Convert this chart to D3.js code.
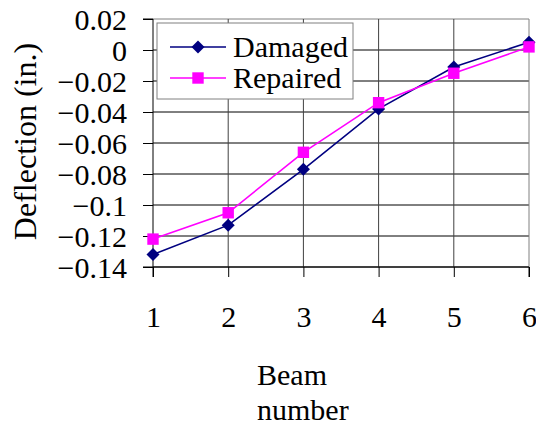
<!DOCTYPE html>
<html><head><meta charset="utf-8">
<script src="https://cdn.jsdelivr.net/npm/d3@7"></script>
<style>html,body{margin:0;padding:0;background:#fff;}svg{display:block;}</style>
</head><body>
<svg id="c" width="536" height="429"></svg>
<script>
const beams = [1, 2, 3, 4, 5, 6];
const damaged = [-0.132, -0.113, -0.077, -0.038, -0.011, 0.005];
const repaired = [-0.122, -0.105, -0.066, -0.034, -0.015, 0.002];
const yTicks = [0.02, 0, -0.02, -0.04, -0.06, -0.08, -0.1, -0.12, -0.14];
const seriesNames = ["Damaged", "Repaired"];

const svg = d3.select("#c");
const font = "'Liberation Serif','Times New Roman',serif";
const FS = 30;
const L = 153, R = 529, T = 19, B = 267;
const x = d3.scaleLinear().domain([1, 6]).range([L, R]);
const y = d3.scaleLinear().domain([-0.14, 0.02]).range([B, T]);

// horizontal gridlines
svg.append("g").selectAll("line").data(yTicks).join("line")
  .attr("x1", L).attr("x2", R).attr("y1", d => y(d)).attr("y2", d => y(d))
  .attr("stroke", d => (d === 0.02 ? "#808080" : "#000")).attr("stroke-width", 1);
// vertical gridlines
svg.append("g").selectAll("line").data(beams.slice(1)).join("line")
  .attr("x1", d => x(d)).attr("x2", d => x(d)).attr("y1", T).attr("y2", B)
  .attr("stroke", d => (d === 6 ? "#808080" : "#404040")).attr("stroke-width", 1);

// y axis
const yAxis = d3.axisLeft(y).tickValues(yTicks).tickSize(10).tickPadding(16)
  .tickFormat(d => (d === 0 ? "0" : d3.format("")(+d.toFixed(2))));
const gy = svg.append("g").attr("transform", `translate(${L},0)`).call(yAxis);
gy.select(".domain").attr("stroke", "#000").attr("d", `M-10,${T}H0V${B}H-10`);
gy.selectAll(".tick line").attr("stroke", "#000");
gy.selectAll("text").attr("font-family", font).attr("font-size", FS).attr("fill", "#000")
  .attr("x", -26).attr("dy", "0.34em");

// x axis
const xAxis = d3.axisBottom(x).tickValues(beams).tickSize(10).tickPadding(26).tickFormat(d3.format("d"));
const gx = svg.append("g").attr("transform", `translate(0,${B})`).call(xAxis);
gx.select(".domain").attr("stroke", "#000").attr("d", `M${L},10V0H${R}V10`);
gx.selectAll(".tick line").attr("stroke", "#000");
gx.selectAll("text").attr("font-family", font).attr("font-size", FS).attr("fill", "#000")
  .attr("y", 60).attr("dy", 0);

// axis titles
svg.append("text").attr("transform", "translate(36,141.5) rotate(-90)")
  .attr("text-anchor", "middle").attr("font-family", font).attr("font-size", 32).text("Deflection (in.)");
svg.append("text").attr("x", 257).attr("y", 385).attr("font-family", font).attr("font-size", FS).text("Beam");
svg.append("text").attr("x", 257).attr("y", 420).attr("font-family", font).attr("font-size", FS).text("number");

// series
const colors = ["#000080", "#FF00FF"];
const data = [damaged, repaired];
const line = d3.line().x((d, i) => x(beams[i])).y(d => y(d));
data.forEach((vals, k) => {
  svg.append("path").datum(vals).attr("d", line).attr("fill", "none")
    .attr("stroke", colors[k]).attr("stroke-width", 1.6);
});
const diamond = d3.symbol().type(d3.symbolSquare).size(85);
svg.append("g").selectAll("path").data(damaged).join("path")
  .attr("d", diamond).attr("fill", colors[0])
  .attr("transform", (d, i) => `translate(${x(beams[i])},${y(d)}) rotate(45)`);
const square = d3.symbol().type(d3.symbolSquare).size(130);
svg.append("g").selectAll("path").data(repaired).join("path")
  .attr("d", square).attr("fill", colors[1])
  .attr("transform", (d, i) => `translate(${x(beams[i])},${y(d)})`);

// legend
const lg = svg.append("g");
lg.append("rect").attr("x", 157).attr("y", 23).attr("width", 196).attr("height", 76)
  .attr("fill", "#fff").attr("stroke", "#808080").attr("stroke-width", 1);
const rowsY = [47, 78];
seriesNames.forEach((n, k) => {
  lg.append("line").attr("x1", 170).attr("x2", 226).attr("y1", rowsY[k]).attr("y2", rowsY[k])
    .attr("stroke", colors[k]).attr("stroke-width", 1.6);
  lg.append("path").attr("d", k === 0 ? diamond : square).attr("fill", colors[k])
    .attr("transform", `translate(198,${rowsY[k]})` + (k === 0 ? " rotate(45)" : ""));
  lg.append("text").attr("x", 233).attr("y", rowsY[k] + 10).attr("font-family", font)
    .attr("font-size", FS).text(n);
});
</script>
</body></html>
